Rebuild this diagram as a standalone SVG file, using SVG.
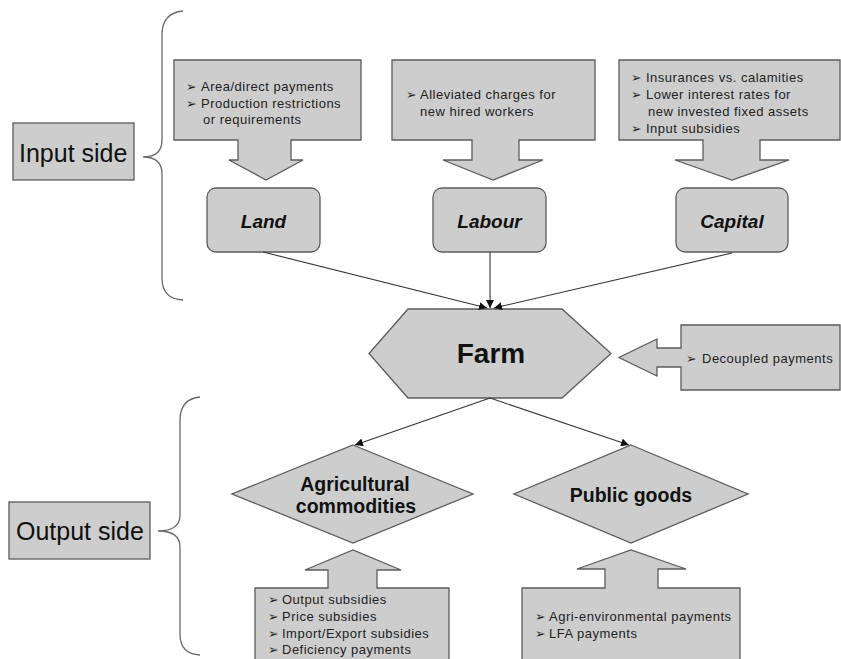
<svg xmlns="http://www.w3.org/2000/svg" width="841" height="659" viewBox="0 0 841 659">
<defs>
<style>
.shp{fill:#cdcdcd;stroke:#5c5c5c;stroke-width:1.3}
.brace{fill:none;stroke:#6a6a6a;stroke-width:1.3}
.con{fill:none;stroke:#333;stroke-width:1.1}
.t{font-family:"Liberation Sans",Arial,sans-serif;font-size:13px;letter-spacing:0.5px;fill:#222}
.b{font-family:"DejaVu Sans",sans-serif;font-size:12.5px;fill:#222}
.side{font-family:"Liberation Sans",Arial,sans-serif;font-size:25px;fill:#111}
.nd{font-family:"Liberation Sans",Arial,sans-serif;font-size:19px;font-weight:bold;fill:#111;text-anchor:middle}
.ndi{font-style:italic}
</style>
<marker id="ah" viewBox="0 0 10 10" refX="10" refY="5" markerWidth="8" markerHeight="8" markerUnits="userSpaceOnUse" orient="auto">
<path d="M0,0 L10,5 L0,10 z" fill="#111"/>
</marker>
</defs>
<rect width="841" height="659" fill="#fff"/>

<g id="input-side">
<rect class="shp" x="13" y="123" width="121" height="57"/>
<text class="side" x="19" y="162">Input side</text>
<path class="brace" d="M183,11 Q162,13 162,35 L162,140 Q162,157 143,157 Q162,157 162,174 L162,278 Q162,299 183,300"/>
</g>

<g id="output-side">
<rect class="shp" x="9" y="502" width="141" height="57"/>
<text class="side" x="16" y="540">Output side</text>
<path class="brace" d="M200,397 Q180,399 180,420 L180,515 Q180,531 158,531 Q180,531 180,547 L180,634 Q180,654 200,655"/>
</g>

<g id="land-callout">
<path class="shp" d="M174,60 H361 V140 H291 V160 H303 L266,180 L229,160 H238 V140 H174 Z"/>
<text class="b" x="186" y="91">➢</text>
<text class="t" x="201" y="91">Area/direct payments</text>
<text class="b" x="186" y="107.5">➢</text>
<text class="t" x="201" y="107.5">Production restrictions</text>
<text class="t" x="203" y="124">or requirements</text>
</g>

<g id="labour-callout">
<path class="shp" d="M392,60 H595 V140 H519 V160 H543 L493,180 L443,160 H472 V140 H392 Z"/>
<text class="b" x="406" y="98.5">➢</text>
<text class="t" x="420" y="98.5">Alleviated charges for</text>
<text class="t" x="420" y="115.5">new hired workers</text>
</g>

<g id="capital-callout">
<path class="shp" d="M619,60 H840 V140 H760 V160 H789 L732,180 L675,160 H703 V140 H619 Z"/>
<text class="b" x="631" y="81.5">➢</text>
<text class="t" x="646" y="81.5">Insurances vs. calamities</text>
<text class="b" x="631" y="98.5">➢</text>
<text class="t" x="646" y="98.5">Lower interest rates for</text>
<text class="t" x="648" y="115.5">new invested fixed assets</text>
<text class="b" x="631" y="132.5">➢</text>
<text class="t" x="646" y="132.5">Input subsidies</text>
</g>

<g id="land">
<rect class="shp" x="207" y="188" width="113" height="64" rx="9"/>
<text class="nd ndi" x="263.5" y="228">Land</text>
</g>
<g id="labour">
<rect class="shp" x="433" y="188" width="113" height="64" rx="9"/>
<text class="nd ndi" x="489.5" y="228">Labour</text>
</g>
<g id="capital">
<rect class="shp" x="676" y="188" width="112" height="64" rx="9"/>
<text class="nd ndi" x="732" y="228">Capital</text>
</g>

<g id="farm">
<polygon class="shp" points="408,309 562,309 611,353.5 562,398 408,398 369,353.5"/>
<text class="nd" style="font-size:28px" x="491" y="363">Farm</text>
</g>

<g id="decoupled-callout">
<path class="shp" d="M681,325 H840 V390 H681 V367 H657 V376 L619,357.5 L657,339 V348 H681 Z"/>
<text class="b" x="686" y="362.5">➢</text>
<text class="t" x="702" y="362.5">Decoupled payments</text>
</g>

<g id="agricultural-commodities">
<polygon class="shp" points="353,445 473,494 353,543 232,494"/>
<text class="nd" style="font-size:19.5px" x="355" y="491">Agricultural</text>
<text class="nd" style="font-size:19.5px" x="356" y="513">commodities</text>
</g>

<g id="public-goods">
<polygon class="shp" points="631,445 748,494 631,543 514,494"/>
<text class="nd" style="font-size:19.5px" x="631" y="502">Public goods</text>
</g>

<g id="agri-callout">
<path class="shp" d="M255,670 V588 H328 V570 H305 L353,550 L401,570 H377 V588 H449 V670 Z"/>
<text class="b" x="268" y="603.5">➢</text>
<text class="t" x="282" y="603.5">Output subsidies</text>
<text class="b" x="268" y="620.5">➢</text>
<text class="t" x="282" y="620.5">Price subsidies</text>
<text class="b" x="268" y="637.5">➢</text>
<text class="t" x="282" y="637.5">Import/Export subsidies</text>
<text class="b" x="268" y="653.5">➢</text>
<text class="t" x="282" y="653.5">Deficiency payments</text>
</g>

<g id="public-callout">
<path class="shp" d="M522,670 V588 H605 V569 H577 L631,550 L686,569 H658 V588 H740 V670 Z"/>
<text class="b" x="535" y="620.5">➢</text>
<text class="t" x="549" y="620.5">Agri-environmental payments</text>
<text class="b" x="535" y="637.5">➢</text>
<text class="t" x="549" y="637.5">LFA payments</text>
</g>

<g id="connectors">
<line class="con" x1="263" y1="252" x2="487" y2="308" marker-end="url(#ah)"/>
<line class="con" x1="490" y1="252" x2="490" y2="308" marker-end="url(#ah)"/>
<line class="con" x1="732" y1="253" x2="494" y2="308" marker-end="url(#ah)"/>
<line class="con" x1="490" y1="398" x2="355" y2="445" marker-end="url(#ah)"/>
<line class="con" x1="490" y1="398" x2="629" y2="445" marker-end="url(#ah)"/>
</g>
</svg>
